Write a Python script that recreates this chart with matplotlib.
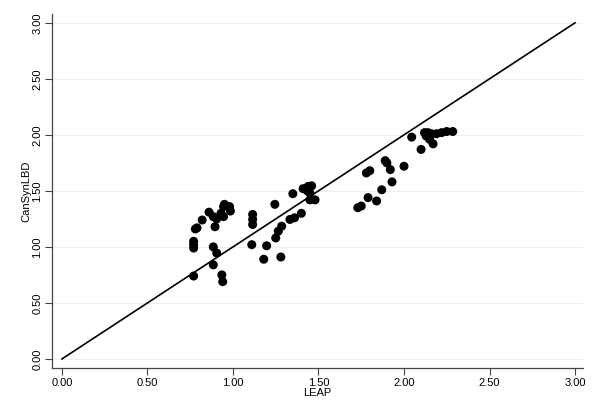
import numpy as np
import matplotlib
matplotlib.use("Agg")
import matplotlib.pyplot as plt

plt.rcParams['font.family'] = ['Liberation Sans', 'DejaVu Sans']

# LEAP vs CanSynLBD values
leap = [0.77, 0.77, 0.77, 0.78, 0.79, 0.82, 0.86, 0.885, 0.895, 0.905,
        0.945, 0.945, 0.98, 0.985, 0.885, 0.905, 0.885, 0.77, 0.935, 0.94,
        1.115, 1.115, 1.115, 1.11, 1.18, 1.197, 1.245, 1.25, 1.265, 1.285,
        1.28, 1.333, 1.36, 1.40, 1.35, 1.41, 1.44, 1.46, 1.435, 1.45,
        1.45, 1.48, 1.73, 1.75, 1.79, 1.84, 1.87, 1.93, 1.78, 1.80,
        1.89, 1.90, 1.92, 2.00, 2.045, 2.10, 2.12, 2.14, 2.13, 2.15,
        2.17, 2.19, 2.22, 2.25, 2.285, 2.16, 0.93, 0.95]
cansyn = [1.05, 1.02, 0.99, 1.16, 1.17, 1.24, 1.31, 1.27, 1.18, 1.25,
          1.36, 1.27, 1.36, 1.32, 1.00, 0.945, 0.84, 0.74, 0.75, 0.69,
          1.29, 1.245, 1.20, 1.02, 0.89, 1.01, 1.38, 1.08, 1.14, 1.185,
          0.91, 1.245, 1.26, 1.30, 1.475, 1.52, 1.54, 1.545, 1.50, 1.48,
          1.42, 1.42, 1.35, 1.365, 1.44, 1.41, 1.51, 1.58, 1.66, 1.68,
          1.77, 1.75, 1.69, 1.72, 1.98, 1.87, 2.02, 2.02, 1.99, 1.96,
          1.92, 2.01, 2.02, 2.03, 2.03, 2.01, 1.30, 1.38]

ticks = [0, 0.5, 1.0, 1.5, 2.0, 2.5, 3.0]
tick_labels = ["0.00", "0.50", "1.00", "1.50", "2.00", "2.50", "3.00"]

fig = plt.figure(figsize=(5.98, 4.2), dpi=100)
ax = fig.add_axes([0.087, 0.124, 0.888, 0.843])

ax.grid(axis='y', color='#e8f0f1', linewidth=0.8, zorder=0)
ax.scatter(leap, cansyn, s=42, color='black', edgecolors='none', zorder=3)
ax.plot([0, 3], [0, 3], color='black', linewidth=1.2, zorder=2)

ax.set_xlim(-0.058, 3.047)
ax.set_ylim(-0.08, 3.08)
ax.set_xticks(ticks)
ax.set_xticklabels(tick_labels)
ax.set_yticks(ticks)
ax.set_yticklabels(tick_labels, rotation=90, va='center')

for side in ['top', 'right']:
    ax.spines[side].set_visible(False)
for side in ['left', 'bottom']:
    ax.spines[side].set_color('#444444')
    ax.spines[side].set_linewidth(0.9)

ax.tick_params(axis='both', direction='out', length=5, width=0.8,
               color='#444444', labelsize=8, pad=2)
ax.set_xlabel("LEAP", fontsize=8, labelpad=0)
ax.set_ylabel("CanSynLBD", fontsize=8, labelpad=1)

fig.savefig("out.png", dpi=100)
